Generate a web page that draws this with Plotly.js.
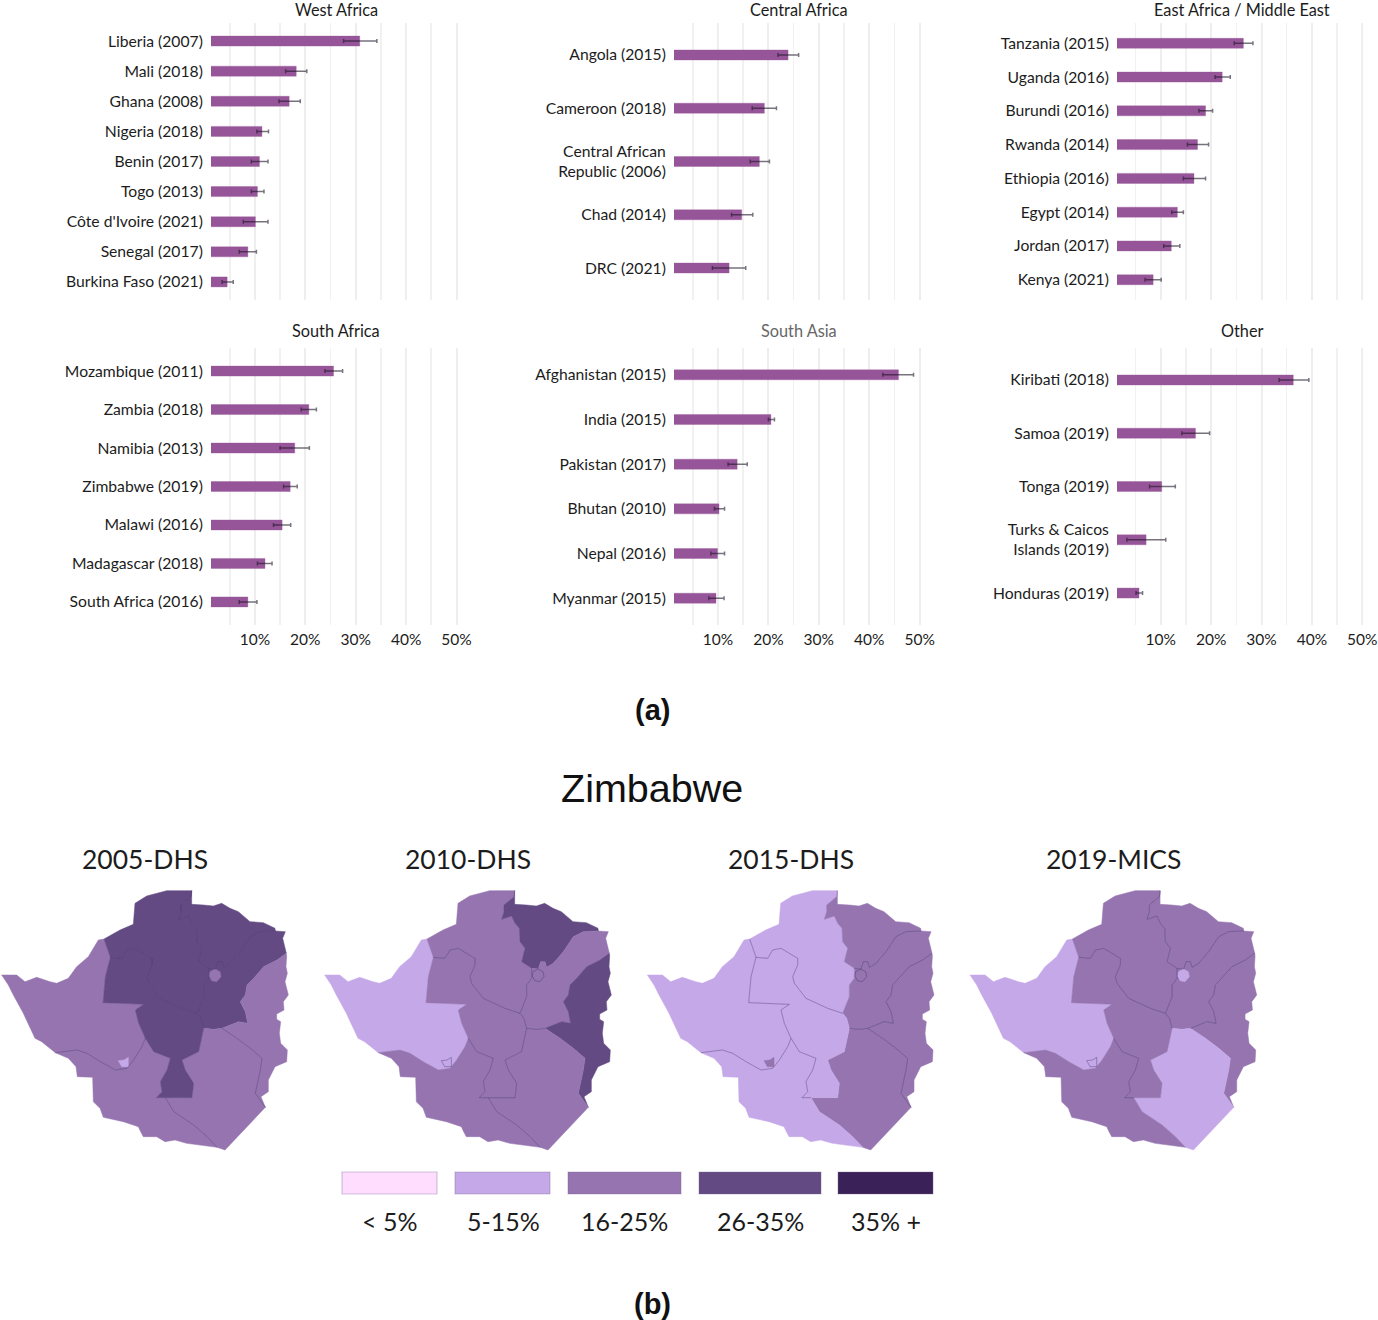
<!DOCTYPE html>
<html><head><meta charset="utf-8">
<script src="https://cdn.plot.ly/plotly-3.0.1.min.js"></script>
<style>html,body{margin:0;padding:0;background:#fff}</style></head>
<body><div id="chart" style="width:1378px;height:1320px"></div>
<script>
// ---- panel (a): prevalence, % ----
const westCountries=["Liberia (2007)","Mali (2018)","Ghana (2008)","Nigeria (2018)","Benin (2017)","Togo (2013)","Côte d'Ivoire (2021)","Senegal (2017)","Burkina Faso (2021)"];
const westValues=[30.8,18.2,16.8,11.4,10.9,10.5,10.1,8.6,4.5];
const westLow=[27.6,16.1,14.8,10.4,9.3,9.3,7.7,6.9,3.5];
const westHigh=[34.2,20.3,19.0,12.7,12.6,11.8,12.6,10.3,5.7];

const centralCountries=["Angola (2015)","Cameroon (2018)","Central African<br>Republic (2006)","Chad (2014)","DRC (2021)"];
const centralValues=[23.9,19.2,18.2,14.7,12.2];
const centralLow=[21.9,16.8,16.4,12.7,8.9];
const centralHigh=[26.0,21.6,20.2,16.9,15.5];

const eastCountries=["Tanzania (2015)","Uganda (2016)","Burundi (2016)","Rwanda (2014)","Ethiopia (2016)","Egypt (2014)","Jordan (2017)","Kenya (2021)"];
const eastValues=[26.4,22.2,18.9,17.3,16.6,13.3,12.1,8.5];
const eastLow=[24.6,20.8,17.6,15.3,14.5,12.2,10.6,6.9];
const eastHigh=[28.3,23.8,20.3,19.5,18.9,14.5,13.8,10.1];

const southCountries=["Mozambique (2011)","Zambia (2018)","Namibia (2013)","Zimbabwe (2019)","Malawi (2016)","Madagascar (2018)","South Africa (2016)"];
const southValues=[25.6,20.7,17.9,17.0,15.4,12.0,8.6];
const southLow=[23.9,19.2,15.0,15.7,13.7,10.5,6.9];
const southHigh=[27.4,22.2,20.8,18.4,17.1,13.4,10.4];

const asiaCountries=["Afghanistan (2015)","India (2015)","Pakistan (2017)","Bhutan (2010)","Nepal (2016)","Myanmar (2015)"];
const asiaValues=[45.8,20.5,13.8,10.2,9.9,9.6];
const asiaLow=[42.7,20.0,12.0,9.3,8.6,8.2];
const asiaHigh=[48.8,21.2,15.8,11.3,11.3,11.2];

const otherCountries=["Kiribati (2018)","Samoa (2019)","Tonga (2019)","Turks &amp; Caicos<br>Islands (2019)","Honduras (2019)"];
const otherValues=[36.3,16.9,10.2,7.1,5.7];
const otherLow=[33.5,14.2,7.8,3.3,5.1];
const otherHigh=[39.4,19.7,12.9,11.0,6.4];

const xTickValues=[10,20,30,40,50];
const xTickLabels=["10%","20%","30%","40%","50%"];

// ---- panel (b): Zimbabwe province boundaries ----
const outerMC=[[575,62],[575,103],[610,105],[640,108],[665,100],[690,115],[715,125],[735,142],[750,155],[790,158],[825,175],[826,183]];
const outerME=[[826,183],[856,185],[848,205],[856,240],[859,250]];
const outerMan=[[859,250],[860,258],[858,290],[862,310],[855,335],[865,375],[850,395],[852,420],[830,432],[830,448],[842,455],[838,490],[842,520],[862,540],[860,575],[825,590],[805,630],[805,665],[783,680],[796,712]];
const outerMas=[[796,712],[675,840],[651,832]];
const outerMS=[[651,832],[600,825],[560,820],[525,810],[495,815],[470,800],[430,800],[422,785],[415,770],[370,755],[340,748],[310,742],[300,715],[280,695],[278,622],[232,620],[228,590],[205,565],[166,548]];
const outerMN=[[166,548],[125,515],[105,505],[85,460],[70,430],[40,375],[25,345],[5,315],[50,315],[75,335],[110,322],[150,335],[170,340],[205,325],[230,290],[265,260],[295,210],[312,207]];
const outerMW=[[312,207],[360,180],[400,163],[405,100],[440,78],[500,62],[575,62]];
const edgeMNMW=[[312,207],[331,262]];
const edgeMNMid=[[331,262],[316,320],[309,398],[431,403],[406,420],[416,460],[436,505]];
const edgeMNMS=[[436,505],[426,530],[401,570],[381,595],[346,600],[301,575],[261,550],[231,540],[166,548]];
const edgeMidMS=[[436,505],[461,545],[511,565],[501,600],[481,635],[486,665],[469,683],[496,683]];
const edgeMSMas=[[496,683],[521,725],[581,765],[621,800],[651,832]];
const edgeMidMas=[[496,683],[576,683],[581,640],[556,600],[546,570],[596,545],[601,520],[611,475]];
const edgeMidMW=[[331,262],[366,265],[381,240],[406,235],[456,265],[456,285],[441,320],[446,340],[481,385],[546,415],[591,430]];
const edgeMidME=[[591,430],[603,445],[611,475]];
const edgeMWMC=[[575,62],[573,80],[543,105],[543,125],[536,148],[566,138],[576,160],[589,175],[591,215],[606,235],[596,275],[626,295]];
const edgeMWME=[[626,295],[626,325],[611,345],[611,380],[591,430]];
const edgeMCME=[[626,295],[646,297],[653,275],[666,275],[671,292],[691,280],[721,245],[751,200],[781,185],[826,183]];
const edgeMEMan=[[859,250],[831,270],[791,290],[761,325],[741,345],[736,375],[721,395],[736,425],[743,460],[716,455],[691,465],[666,475]];
const edgeMEMas=[[611,475],[641,478],[666,475]];
const edgeManMas=[[666,475],[711,505],[751,535],[786,565],[781,600],[766,670],[796,712]];
const harare=[[630,305],[645,297],[660,305],[663,320],[650,335],[635,332],[628,318],[630,305]];
const bulawayo=[[355,572],[372,570],[385,562],[385,590],[365,590],[355,572]];

const surveyYears=["2005-DHS","2010-DHS","2015-DHS","2019-MICS"];
// class of each province per survey (0 = < 5% ... 4 = 35% +)
const classMN=[2,1,1,1];
const classMW=[3,2,1,2];
const classMC=[3,3,2,2];
const classME=[3,2,2,2];
const classMan=[2,3,2,2];
const classMas=[2,2,2,1];
const classMS=[2,2,1,2];
const classMid=[3,2,1,2];
const classHarare=[2,2,2,1];
const classBulawayo=[1,1,2,1];
const legendLabels=["< 5%","5-15%","16-25%","26-35%","35% +"];
const legendColors=["#ffddff","#c5a8e8","#9574b0","#634a83","#3a2258"];

// ---- layout helpers ----
const W=1378,H=1320;
const FONT="Lato, sans-serif", INK="#1c1c1c";
const px=v=>v/W, py=v=>1-v/H;
const traces=[], annotations=[], shapes=[];
const layout={width:W,height:H,margin:{l:0,r:0,t:0,b:0},paper_bgcolor:"#fff",plot_bgcolor:"rgba(0,0,0,0)",showlegend:false,font:{family:FONT,color:INK}};
function text(t,x,y,size,opts={}){annotations.push(Object.assign({text:t,x:px(x),y:py(y),xref:"paper",yref:"paper",xanchor:"center",yanchor:"middle",showarrow:false,font:{size:size,family:FONT,color:INK}},opts));}

const panels=[
 {t:"West Africa",c:westCountries,v:westValues,lo:westLow,hi:westHigh,left:211,zero:204.5,top:23,bot:300},
 {t:"Central Africa",c:centralCountries,v:centralValues,lo:centralLow,hi:centralHigh,left:674,zero:667.6,top:23,bot:300},
 {t:"East Africa / Middle East",c:eastCountries,v:eastValues,lo:eastLow,hi:eastHigh,left:1117,zero:1110.3,top:23,bot:300},
 {t:"South Africa",c:southCountries,v:southValues,lo:southLow,hi:southHigh,left:211,zero:204.5,top:348,bot:625,ticks:true},
 {t:"South Asia",c:asiaCountries,v:asiaValues,lo:asiaLow,hi:asiaHigh,left:674,zero:667.6,top:348,bot:625,ticks:true,tc:"#666"},
 {t:"Other",c:otherCountries,v:otherValues,lo:otherLow,hi:otherHigh,left:1117,zero:1110.3,top:348,bot:625,ticks:true}
];
const SCALE=5.04, PW=250;
panels.forEach((p,i)=>{
  const k=i+1, xa="x"+k, ya="y"+k, n=p.c.length;
  const span=(p.bot-p.top)/(n-1+1.2);
  traces.push({type:"bar",orientation:"h",x:p.v,y:p.c,xaxis:xa,yaxis:ya,width:10/span,
    marker:{color:"#965598",line:{color:"rgba(150,85,152,0.35)",width:1}},hoverinfo:"x+y",
    error_x:{type:"data",symmetric:false,array:p.hi.map((h,j)=>h-p.v[j]),arrayminus:p.v.map((v,j)=>v-p.lo[j]),color:"rgba(30,20,40,0.6)",thickness:1.5,width:2}});
  const x0=(p.left-p.zero)/SCALE;
  layout["xaxis"+k]={domain:[px(p.left),px(p.left+PW)],range:[x0,x0+PW/SCALE],anchor:ya,zeroline:false,
    tickmode:"array",tickvals:xTickValues,ticktext:p.ticks?xTickLabels:xTickValues.map(()=>""),ticks:"",ticklabelstandoff:3,
    tickfont:{size:15.5,family:FONT,color:INK},showgrid:true,gridcolor:"#eeeeee",gridwidth:2,showline:false,
    minor:{tickmode:"array",tickvals:[5,15,25,35,45],showgrid:true,gridcolor:"#f1f1f1",gridwidth:1.6,ticks:""}};
  layout["yaxis"+k]={domain:[py(p.bot),py(p.top)],anchor:xa,type:"category",categoryorder:"array",categoryarray:p.c,
    range:[n-1+0.6,-0.6],showgrid:false,zeroline:false,showline:false,ticks:"outside",ticklen:4,tickcolor:"rgba(0,0,0,0)",
    tickfont:{size:15.7,family:FONT,color:INK}};
  text(p.t,p.left+125,p.top===23?9:331,16.3,{font:{size:16.3,family:FONT,color:p.tc||INK}});
});

// ---- maps ----
const rev=a=>a.slice().reverse();
const join=(...parts)=>parts.flat();
const provinces=[
 {cls:classMN,pts:join(outerMN,edgeMNMW,edgeMNMid,edgeMNMS)},
 {cls:classMW,pts:join(outerMW,edgeMWMC,edgeMWME,rev(edgeMidMW),rev(edgeMNMW))},
 {cls:classMC,pts:join(outerMC,rev(edgeMCME),rev(edgeMWMC))},
 {cls:classME,pts:join(outerME,edgeMEMan,rev(edgeMEMas),rev(edgeMidME),rev(edgeMWME),edgeMCME)},
 {cls:classMan,pts:join(outerMan,rev(edgeManMas),rev(edgeMEMan))},
 {cls:classMas,pts:join(edgeMEMas,edgeManMas,outerMas,rev(edgeMSMas),edgeMidMas)},
 {cls:classMS,pts:join(outerMS,rev(edgeMNMS),edgeMidMS,edgeMSMas)},
 {cls:classMid,pts:join(edgeMidMW,edgeMidME,rev(edgeMidMas),rev(edgeMidMS),rev(edgeMNMid))},
 {cls:classHarare,pts:harare,parent:classME},
 {cls:classBulawayo,pts:bulawayo,parent:classMN}
];
const edges=[
 [edgeMNMW,classMN,classMW],[edgeMNMid,classMN,classMid],[edgeMNMS,classMN,classMS],[edgeMidMS,classMid,classMS],
 [edgeMSMas,classMS,classMas],[edgeMidMas,classMid,classMas],[edgeMidMW,classMid,classMW],[edgeMidME,classMid,classME],
 [edgeMWMC,classMW,classMC],[edgeMWME,classMW,classME],[edgeMCME,classMC,classME],[edgeMEMan,classME,classMan],
 [edgeMEMas,classME,classMas],[edgeManMas,classMan,classMas]
];
const mapLeft=[0,323,645.7,968.4], mapLabelX=[145,468,791,1113];
const BORDER="rgba(65,48,105,0.4)";
surveyYears.forEach((yr,m)=>{
  const k=7+m, xa="x"+k, ya="y"+k;
  layout["xaxis"+k]={domain:[px(mapLeft[m]),px(mapLeft[m]+320)],range:[0,960],visible:false,anchor:ya,fixedrange:true};
  layout["yaxis"+k]={domain:[py(1170),py(870)],range:[900,0],visible:false,anchor:xa,fixedrange:true};
  provinces.forEach(pr=>{
    const col=legendColors[pr.cls[m]];
    const outline=pr.parent && pr.parent[m]===pr.cls[m];
    traces.push({type:"scatter",mode:"lines",fill:"toself",fillcolor:col,x:pr.pts.map(q=>q[0]),y:pr.pts.map(q=>q[1]),xaxis:xa,yaxis:ya,
      line:{color:outline?BORDER:col,width:outline?1:0.5},hoverinfo:"skip"});
  });
  edges.forEach(([e,a,b])=>{
    if(a[m]!==b[m]) return;
    traces.push({type:"scatter",mode:"lines",x:e.map(q=>q[0]),y:e.map(q=>q[1]),xaxis:xa,yaxis:ya,line:{color:BORDER,width:1},hoverinfo:"skip"});
  });
  text(yr,mapLabelX[m],859,26.5);
});

// ---- legend and captions ----
const swatchLeft=[342,455,568,699,838], swatchRight=[437,550,681,821,933], legendX=[389,503,624,760,886];
legendLabels.forEach((l,i)=>{
  shapes.push({type:"rect",xref:"paper",yref:"paper",x0:px(swatchLeft[i]),x1:px(swatchRight[i]),y0:py(1194),y1:py(1172),fillcolor:legendColors[i],line:{color:"rgba(120,100,150,0.35)",width:1.2}});
  text(l.replace("<","&lt;"),legendX[i],1221,25);
});
const ARIAL="Liberation Sans, Arial, sans-serif";
text("<b>(a)</b>",652,709.5,29,{font:{size:29,family:ARIAL,color:"#111"}});
text("Zimbabwe",652,788.5,39.5,{font:{size:39.5,family:ARIAL,color:"#111"}});
text("<b>(b)</b>",652,1303.5,29,{font:{size:29,family:ARIAL,color:"#111"}});
layout.annotations=annotations; layout.shapes=shapes;
Plotly.newPlot("chart",traces,layout,{displayModeBar:false,staticPlot:true});
</script></body></html>
